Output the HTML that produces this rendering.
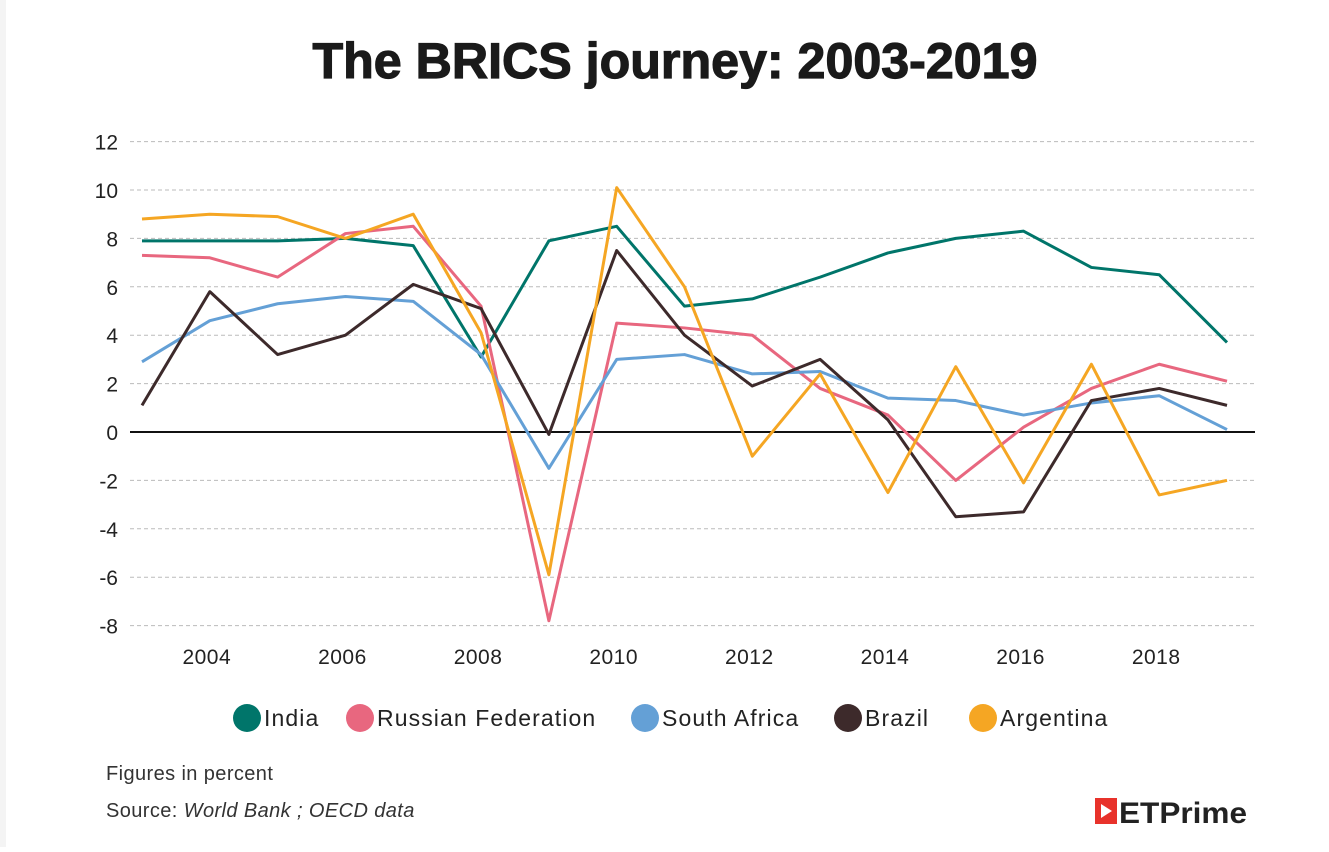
<!DOCTYPE html>
<html><head><meta charset="utf-8"><style>
body{margin:0;background:#fff;width:1329px;height:847px;overflow:hidden;font-family:"Liberation Sans",sans-serif}
</style></head><body>
<svg width="1329" height="847" xmlns="http://www.w3.org/2000/svg">
<rect x="0" y="0" width="1329" height="847" fill="#fff"/>
<rect x="0" y="0" width="6" height="847" fill="#f4f4f4"/>
<text x="675" y="78" text-anchor="middle" font-size="50" font-weight="bold" fill="#1a1a1a" stroke="#1a1a1a" stroke-width="1.2" textLength="725" lengthAdjust="spacingAndGlyphs">The BRICS journey: 2003-2019</text>
<g id="grid"></g><g id="lines"></g>
<g id="legend" font-size="23" fill="#222" letter-spacing="1.1"></g>
<text x="106" y="780" font-size="20" fill="#333" letter-spacing="0.4">Figures in percent</text>
<text x="106" y="817" font-size="20" fill="#333" letter-spacing="0.4">Source: <tspan font-style="italic">World Bank ; OECD data</tspan></text>
<g>
<rect x="1095" y="798" width="22" height="26" fill="#e8322b"/>
<polygon points="1101,804 1112,811 1101,818" fill="#fff"/>
<text x="1119" y="823" font-size="30" font-weight="bold" fill="#222" textLength="128" lengthAdjust="spacingAndGlyphs">ETPrime</text>
</g>
</svg>
<script>
const years=[2003,2004,2005,2006,2007,2008,2009,2010,2011,2012,2013,2014,2015,2016,2017,2018,2019];
const yTicks=[12,10,8,6,4,2,0,-2,-4,-6,-8];
const xTicks=[2004,2006,2008,2010,2012,2014,2016,2018];
const india=[7.9,7.9,7.9,8.0,7.7,3.1,7.9,8.5,5.2,5.5,6.4,7.4,8.0,8.3,6.8,6.5,3.7];
const russia=[7.3,7.2,6.4,8.2,8.5,5.2,-7.8,4.5,4.3,4.0,1.8,0.7,-2.0,0.2,1.8,2.8,2.1];
const southAfrica=[2.9,4.6,5.3,5.6,5.4,3.2,-1.5,3.0,3.2,2.4,2.5,1.4,1.3,0.7,1.2,1.5,0.1];
const brazil=[1.1,5.8,3.2,4.0,6.1,5.1,-0.1,7.5,4.0,1.9,3.0,0.5,-3.5,-3.3,1.3,1.8,1.1];
const argentina=[8.8,9.0,8.9,8.0,9.0,4.1,-5.9,10.1,6.0,-1.0,2.4,-2.5,2.7,-2.1,2.8,-2.6,-2.0];
const seriesNames=["India","Russian Federation","South Africa","Brazil","Argentina"];
const ns="http://www.w3.org/2000/svg";
const X=y=>142+(y-2003)*(1227-142)/16;
const Y=v=>432-v*24.2;
function mk(t,a,p){const e=document.createElementNS(ns,t);for(const k in a)e.setAttribute(k,a[k]);p.appendChild(e);return e;}
const grid=document.getElementById('grid');
yTicks.forEach(v=>{
 const l=mk('line',{x1:130,x2:1255,y1:Y(v),y2:Y(v),stroke:v===0?'#111':'#bbb','stroke-width':v===0?2:1,'stroke-dasharray':v===0?'':'4,3'},grid);
 
 
 const t=mk('text',{x:118,y:Y(v)+8,'text-anchor':'end','font-size':21,fill:'#222'},grid);
 t.textContent=v;
 
 
});
xTicks.forEach(y=>{
 const t=mk('text',{x:X(y)-3,y:664,'text-anchor':'middle','font-size':21,fill:'#222','letter-spacing':0.5},grid);
 t.textContent=y;
 
 
});
const data=[india,russia,southAfrica,brazil,argentina];
const colors=["#00756a","#e8677f","#64a0d6","#3d2a2b","#f5a623"];
const lines=document.getElementById('lines');
data.forEach((d,i)=>{
 const p=mk('polyline',{points:d.map((v,j)=>X(years[j])+','+Y(v)).join(' '),fill:'none',stroke:colors[i],'stroke-width':3,'stroke-linejoin':'round'},lines);
 
 
});
const lg=document.getElementById('legend');
const lx=[247,360,645,848,983];
seriesNames.forEach((n,i)=>{
 const g=mk('g',{},lg);
 
 
 mk('circle',{cx:lx[i],cy:718,r:14,fill:colors[i]},g);
 const t=mk('text',{x:lx[i]+17,y:726},g);t.textContent=n;
});
</script>
</body></html>
